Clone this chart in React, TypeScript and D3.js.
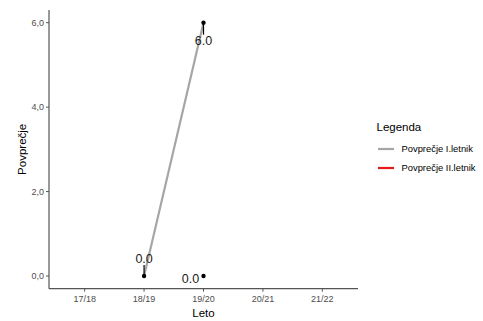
import React from "react";
import * as d3 from "d3";

const years = ["17/18", "18/19", "19/20", "20/21", "21/22"];
const yTicks = [0, 2, 4, 6];
const seriesNames = ["Povprečje I.letnik", "Povprečje II.letnik"];
const seriesColors = ["#a6a6a6", "#e41a1c"];
const s1Years = ["18/19", "19/20"];
const s1Values = [0, 6];
const s2Years = ["19/20"];
const s2Values = [0];
// label nudges (repel offsets) in px for each point, in order: s1 points, then s2 points
const labelDx = [0, 0, -13];
const labelDy = [-17, 18, 3];

const W = 483, H = 321;
const left = 49, right = 358, top = 10, bottom = 288.7;

export default function App() {
  const x = d3.scalePoint<string>().domain(years).range([left, right]).padding(0.6);
  const y = d3.scaleLinear().domain([-0.3, 6.3]).range([bottom, top]);
  const line = d3.line<[string, number]>().x(d => x(d[0])!).y(d => y(d[1]));
  const s1 = s1Years.map((yr, i) => [yr, s1Values[i]] as [string, number]);
  const s2 = s2Years.map((yr, i) => [yr, s2Values[i]] as [string, number]);
  const pts = [...s1, ...s2];
  const fmt = (v: number) => d3.format(".1f")(v).replace(".", ",");
  const font = "Liberation Sans, Arial, sans-serif";
  return (
    <svg width={W} height={H} style={{ position: "absolute", left: 0, top: 0, background: "#fff" }} fontFamily={font}>
      <rect width={W} height={H} fill="#fff" />
      {/* series lines */}
      <path d={line(s1)!} fill="none" stroke={seriesColors[0]} strokeWidth={2.2} />
      {s2.length > 1 && <path d={line(s2)!} fill="none" stroke={seriesColors[1]} strokeWidth={2.2} />}
      {/* repel segments, labels and points */}
      {pts.map((p, i) => {
        const px = x(p[0])!, py = y(p[1]);
        const lx = px + labelDx[i], ly = py + labelDy[i];
        const showSeg = Math.abs(labelDy[i]) > 10;
        return (
          <g key={i}>
            {showSeg && (
              <line x1={px} y1={py} x2={px} y2={ly + (labelDy[i] < 0 ? 6 : -6)} stroke="#000" strokeWidth={1.2} />
            )}
            <text x={lx} y={ly} dy="0.35em" textAnchor="middle" fontSize={12.5} fill="#1a1a1a">
              {d3.format(".1f")(p[1])}
            </text>
            <circle cx={px} cy={py} r={2.2} fill="#000" />
          </g>
        );
      })}
      {/* axes */}
      <line x1={left} x2={left} y1={top} y2={bottom} stroke="#555" strokeWidth={1.2} />
      <line x1={left} x2={right} y1={bottom} y2={bottom} stroke="#555" strokeWidth={1.2} />
      {yTicks.map(t => (
        <g key={t}>
          <line x1={left - 3} x2={left} y1={y(t)} y2={y(t)} stroke="#555" strokeWidth={1} />
          <text x={left - 5} y={y(t)} dy="0.35em" textAnchor="end" fontSize={9} fill="#4d4d4d">{fmt(t)}</text>
        </g>
      ))}
      {years.map(yr => (
        <g key={yr}>
          <line x1={x(yr)!} x2={x(yr)!} y1={bottom} y2={bottom + 3} stroke="#555" strokeWidth={1} />
          <text x={x(yr)!} y={bottom + 10.5} dy="0.35em" textAnchor="middle" fontSize={9} fill="#4d4d4d">{yr}</text>
        </g>
      ))}
      <text x={(left + right) / 2} y={313} dy="0.35em" textAnchor="middle" fontSize={11.5} fill="#000">Leto</text>
      <text transform={`translate(21.5,${(top + bottom) / 2}) rotate(-90)`} dy="0.35em" textAnchor="middle" fontSize={11.5} fill="#000">Povprečje</text>
      {/* legend */}
      <text x={376.5} y={127} dy="0.35em" fontSize={11.5} fill="#000">Legenda</text>
      {seriesNames.map((n, i) => (
        <g key={n}>
          <line x1={378} x2={394} y1={149 + i * 19} y2={149 + i * 19} stroke={seriesColors[i]} strokeWidth={2.2} />
          <text x={401.5} y={149 + i * 19} dy="0.35em" fontSize={9.4} fill="#000">{n}</text>
        </g>
      ))}
    </svg>
  );
}
